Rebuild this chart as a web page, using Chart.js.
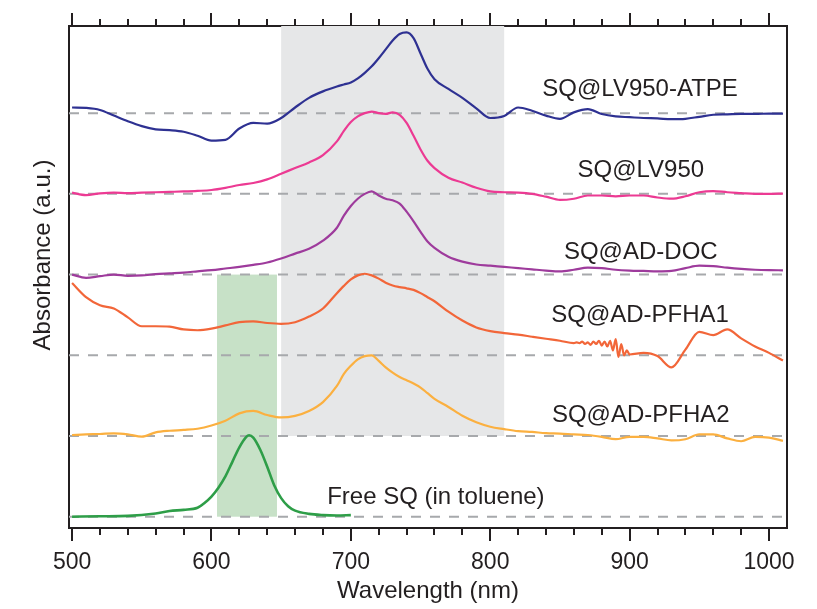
<!DOCTYPE html>
<html>
<head>
<meta charset="utf-8">
<script src="https://cdn.jsdelivr.net/npm/chart.js@4.4.1/dist/chart.umd.min.js"></script>
<style>
  html, body { margin: 0; padding: 0; background: #fff; }
  canvas { display: block; }
</style>
</head>
<body>
<canvas id="chart" width="817" height="609"></canvas>
<script>
/* data (absorbance relative to each trace's own baseline) */
const wavelength = [500, 510, 520, 530, 540, 550, 560, 570, 580, 590, 600, 610, 620, 630, 640, 650, 660, 670, 680, 690,
  695, 700, 705, 710, 715, 720, 725, 730, 735, 740, 745, 750, 755, 760,
  770, 780, 790, 800, 810, 820, 830, 840, 850, 860, 870, 880, 890, 900, 910, 920, 930, 940, 950, 960, 970, 980, 990, 1000, 1010];

const atpe = [0.07, 0.065, 0.04, -0.03, -0.10, -0.16, -0.20, -0.21, -0.23, -0.28, -0.34, -0.33, -0.19, -0.12, -0.13, -0.06, 0.07, 0.19, 0.27, 0.33,
  0.355, 0.38, 0.43, 0.50, 0.58, 0.68, 0.79, 0.90, 0.98, 1.0, 0.93, 0.74, 0.55, 0.42,
  0.30, 0.19, 0.06, -0.06, -0.035, 0.07, 0.03, -0.03, -0.07, 0.01, 0.05, -0.01, -0.04, -0.05, -0.06, -0.065, -0.075, -0.07, -0.045, -0.02, -0.015, -0.01, -0.01, -0.005, -0.005];

const lv950 = [0.016, -0.015, 0.005, 0.015, 0.01, 0.015, 0.02, 0.025, 0.03, 0.037, 0.048, 0.075, 0.11, 0.135, 0.18, 0.25, 0.32, 0.39, 0.48, 0.65,
  0.78, 0.89, 0.96, 1.0, 1.02, 1.0, 0.99, 1.01, 0.98, 0.88, 0.72, 0.55, 0.41, 0.32,
  0.20, 0.14, 0.075, 0.03, 0.02, 0.015, 0.0, -0.035, -0.075, -0.06, -0.02, -0.02, -0.03, -0.02, -0.02, -0.045, -0.06, -0.03, 0.02, 0.035, 0.02, 0.01, 0.0, 0.0, 0.004];

const adDoc = [0, -0.04, -0.02, 0.0, -0.015, -0.01, 0.005, 0.015, 0.025, 0.04, 0.055, 0.075, 0.095, 0.12, 0.15, 0.2, 0.26, 0.32, 0.42, 0.58,
  0.73, 0.85, 0.94, 1.0, 1.03, 0.98, 0.94, 0.92, 0.88, 0.78, 0.66, 0.53, 0.41, 0.33,
  0.22, 0.16, 0.125, 0.11, 0.095, 0.08, 0.065, 0.05, 0.04, 0.06, 0.085, 0.08, 0.06, 0.05, 0.045, 0.04, 0.045, 0.08, 0.11, 0.105, 0.085, 0.07, 0.06, 0.055, 0.053];

const pfha1 = [0.895, 0.72, 0.62, 0.58, 0.47, 0.36, 0.36, 0.355, 0.32, 0.31, 0.33, 0.37, 0.41, 0.42, 0.40, 0.39, 0.41, 0.48, 0.58, 0.77,
  0.86, 0.94, 0.99, 1.01, 0.99, 0.95, 0.9, 0.865, 0.845, 0.83, 0.81, 0.77, 0.72, 0.67,
  0.54, 0.43, 0.345, 0.30, 0.275, 0.255, 0.23, 0.205, 0.18, 0.15, 0.15, 0.14, 0.08, 0.01, 0.03, -0.01, -0.15, 0.07, 0.29, 0.25, 0.32, 0.21, 0.11, 0.03, -0.065];

// noisy stretch of SQ@AD-PFHA1 near 860-900 nm
const pfha1NoiseWl = [862, 864, 866, 868, 870, 872, 874, 876, 878, 880, 882, 884, 886, 888, 890, 892, 894, 896, 898];
const pfha1Noise = [0.16, 0.15, 0.17, 0.14, 0.16, 0.13, 0.17, 0.14, 0.18, 0.12, 0.17, 0.11, 0.18, 0.06, 0.2, -0.02, 0.14, 0.0, 0.06];

const pfha2 = [0.012, 0.02, 0.025, 0.033, 0.02, -0.008, 0.045, 0.065, 0.075, 0.09, 0.13, 0.19, 0.28, 0.31, 0.26, 0.23, 0.25, 0.31, 0.42, 0.62,
  0.77, 0.87, 0.95, 0.99, 1.0, 0.93, 0.85, 0.785, 0.73, 0.69, 0.65, 0.60, 0.53, 0.46,
  0.36, 0.25, 0.17, 0.115, 0.085, 0.06, 0.05, 0.035, 0.03, 0.02, 0.012, -0.01, -0.04, -0.01, -0.01, -0.03, -0.055, -0.04, 0.02, 0.02, -0.03, -0.065, -0.01, -0.02, -0.06];

const freeWl = [500, 520, 540, 560, 570, 580, 590, 595, 600, 605, 610, 615, 620, 625, 627, 630, 635, 640, 645, 650, 655, 660, 670, 680, 690, 700];
const freeSQ = [0, 0.005, 0.01, 0.04, 0.07, 0.085, 0.11, 0.17, 0.25, 0.36, 0.5, 0.68, 0.86, 0.99, 1.01, 0.98, 0.83, 0.62, 0.39, 0.23, 0.13, 0.075, 0.035, 0.02, 0.015, 0.02];

const seriesNames = ["SQ@LV950-ATPE", "SQ@LV950", "SQ@AD-DOC", "SQ@AD-PFHA1", "SQ@AD-PFHA2", "Free SQ (in toluene)"];
const offsets = [5, 4, 3, 2, 1, 0];
const colors = ["#2e3192", "#ec3a93", "#9e3b9c", "#f26639", "#fbb040", "#2e9e48"];

const xTicks = [500, 520, 540, 560, 580, 600, 620, 640, 660, 680, 700, 720, 740, 760, 780, 800,
  820, 840, 860, 880, 900, 920, 940, 960, 980, 1000];
const xTickLabels = [500, 600, 700, 800, 900, 1000];

const grayBand = [650, 810];   // nm
const greenBand = [604, 647];  // nm

// label anchors in data units (nm, offset units)
const labelX = [907.5, 908, 908, 907.5, 908, 761];
const labelY = [5.29, 4.29, 3.28, 2.49, 1.26, 0.24];

const X_MIN = 497.8, X_MAX = 1012.9, Y_MIN = -0.14, Y_MAX = 6.08;
const INK = "#231f20";
const FONT = '"Liberation Sans", Arial, Helvetica, sans-serif';

/* build datasets */
function points(xs, ys, off) {
  return xs.map((x, i) => ({ x, y: ys[i] + off }));
}

const pfha1Points = points(wavelength, pfha1, offsets[3])
  .filter(p => p.x < 861 || p.x > 899)
  .concat(points(pfha1NoiseWl, pfha1Noise, offsets[3]))
  .sort((a, b) => a.x - b.x);

const curves = [
  points(wavelength, atpe, offsets[0]),
  points(wavelength, lv950, offsets[1]),
  points(wavelength, adDoc, offsets[2]),
  pfha1Points,
  points(wavelength, pfha2, offsets[4]),
  points(freeWl, freeSQ, offsets[5])
];

const datasets = [];
offsets.forEach(off => {
  datasets.push({
    data: [{ x: X_MIN, y: off }, { x: X_MAX, y: off }],
    borderColor: "#a7a9ac",
    borderWidth: 2,
    borderDash: [10, 9],
    pointRadius: 0,
    order: 5
  });
});
curves.forEach((c, i) => {
  datasets.push({
    label: seriesNames[i],
    data: c,
    borderColor: colors[i],
    borderWidth: i === 5 ? 2.6 : 2.2,
    pointRadius: 0,
    cubicInterpolationMode: "monotone",
    order: 1
  });
});

/* shading, tick marks, in-plot labels */
const decor = {
  id: "decor",
  beforeDatasetsDraw(chart) {
    const { ctx, chartArea: a, scales: { x, y } } = chart;
    ctx.save();
    ctx.fillStyle = "#e6e7e8";
    let x0 = x.getPixelForValue(grayBand[0]), x1 = x.getPixelForValue(grayBand[1]);
    ctx.fillRect(x0, a.top, x1 - x0, y.getPixelForValue(offsets[4]) - a.top);
    ctx.fillStyle = "#c7e1c7";
    x0 = x.getPixelForValue(greenBand[0]);
    x1 = x.getPixelForValue(greenBand[1]);
    const yt = y.getPixelForValue(offsets[2]), yb = y.getPixelForValue(offsets[5]);
    ctx.fillRect(x0, yt, x1 - x0, yb - yt);
    ctx.restore();
  },
  afterDraw(chart) {
    const { ctx, chartArea: a, scales: { x, x2, y } } = chart;
    ctx.save();
    ctx.strokeStyle = INK;
    ctx.lineWidth = 2;
    [[x, a.bottom, 1], [x2, a.top, -1]].forEach(([s, base, dir]) => {
      s.ticks.forEach(t => {
        const px = Math.round(s.getPixelForValue(t.value));
        const len = xTickLabels.includes(t.value) ? 13 : 7;
        ctx.beginPath();
        ctx.moveTo(px, base);
        ctx.lineTo(px, base + dir * len);
        ctx.stroke();
      });
    });

    ctx.fillStyle = INK;
    ctx.font = "24px " + FONT;
    ctx.textAlign = "center";
    ctx.textBaseline = "middle";
    seriesNames.forEach((n, i) => {
      ctx.fillText(n, x.getPixelForValue(labelX[i]), y.getPixelForValue(labelY[i]));
    });

    ctx.translate(43, (a.top + a.bottom) / 2 - 22);
    ctx.rotate(-Math.PI / 2);
    ctx.fillText("Absorbance (a.u.)", 0, 0);
    ctx.restore();
  }
};

const border = { display: true, color: INK, width: 2 };

new Chart(document.getElementById("chart"), {
  type: "line",
  data: { datasets },
  options: {
    responsive: false,
    animation: false,
    devicePixelRatio: 1,
    layout: { padding: { right: 30 } },
    plugins: { legend: { display: false }, tooltip: { enabled: false } },
    scales: {
      x: {
        type: "linear",
        position: "bottom",
        min: X_MIN,
        max: X_MAX,
        afterBuildTicks: s => { s.ticks = xTicks.map(v => ({ value: v })); },
        afterFit: s => { s.height = 81; },
        ticks: {
          autoSkip: false,
          maxRotation: 0,
          minRotation: 0,
          padding: 13,
          color: INK,
          font: { family: FONT, size: 23 },
          callback: v => xTickLabels.includes(v) ? String(v) : ""
        },
        grid: { display: false },
        border,
        title: {
          display: true,
          text: "Wavelength (nm)",
          color: INK,
          font: { family: FONT, size: 24 },
          padding: { top: 0, bottom: 3 }
        }
      },
      x2: {
        type: "linear",
        position: "top",
        min: X_MIN,
        max: X_MAX,
        afterBuildTicks: s => { s.ticks = xTicks.map(v => ({ value: v })); },
        afterFit: s => { s.height = 26; },
        ticks: { display: false },
        grid: { display: false },
        border
      },
      y: {
        position: "left",
        min: Y_MIN,
        max: Y_MAX,
        afterFit: s => { s.width = 69; },
        ticks: { display: false },
        grid: { display: false },
        border
      },
      y2: {
        position: "right",
        min: Y_MIN,
        max: Y_MAX,
        afterFit: s => { s.width = 0; },
        ticks: { display: false },
        grid: { display: false },
        border
      }
    }
  },
  plugins: [decor]
});
</script>
</body>
</html>
